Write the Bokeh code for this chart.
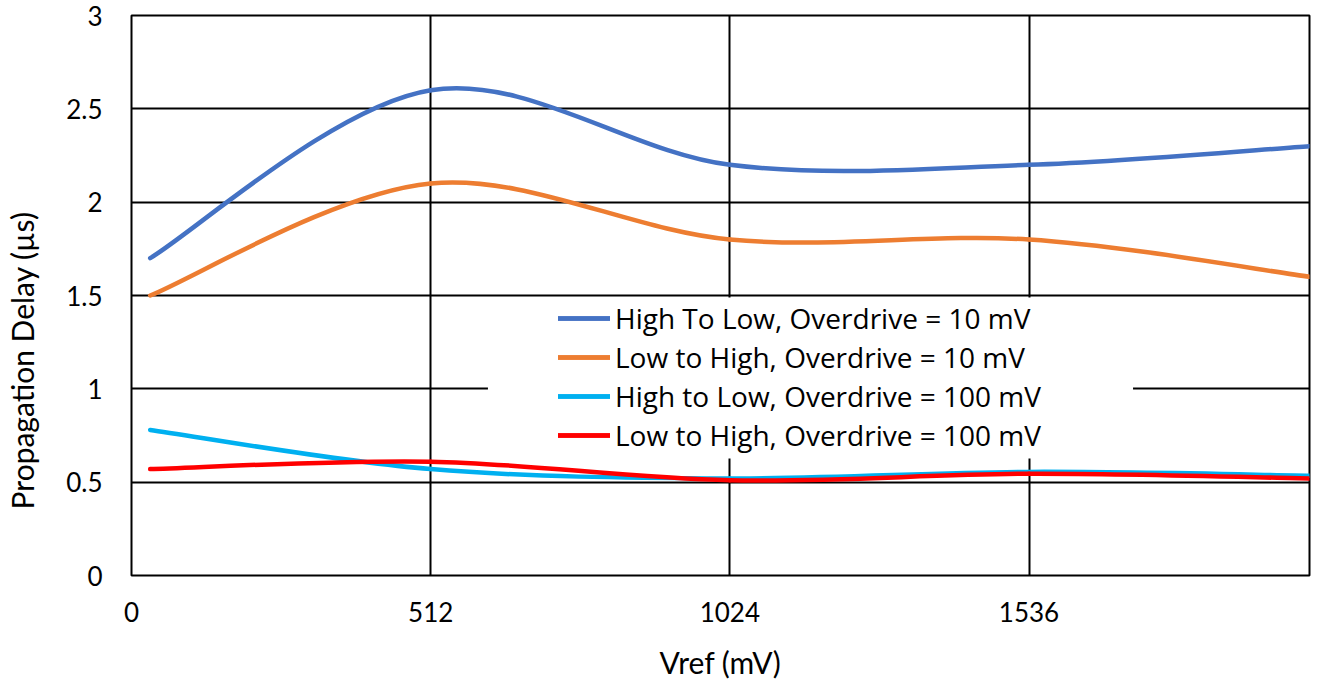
import math
from bokeh.plotting import figure
from bokeh.models import (Range1d, FixedTicker, Legend, LegendItem, BoxAnnotation, Label)
from bokeh.embed import file_html
from bokeh.resources import INLINE

# ---- data ----
vref = [32, 512, 1024, 1536, 2016]
hl_10 = [1.70, 2.60, 2.20, 2.20, 2.30]
lh_10 = [1.50, 2.10, 1.80, 1.80, 1.60]
hl_100 = [0.78, 0.57, 0.52, 0.555, 0.535]
lh_100 = [0.57, 0.61, 0.51, 0.545, 0.52]

series_names = ["High To Low, Overdrive = 10 mV",
                "Low to High, Overdrive = 10 mV",
                "High to Low, Overdrive = 100 mV",
                "Low to High, Overdrive = 100 mV"]
series_values = [hl_10, lh_10, hl_100, lh_100]
series_colors = ["#4472C4", "#ED7D31", "#00B0F0", "#FF0000"]

x_ticks = [0, 512, 1024, 1536]
y_ticks = [0, 0.5, 1, 1.5, 2, 2.5, 3]
y_tick_labels = ["0", "0.5", "1", "1.5", "2", "2.5", "3"]

FONT = "Lato"
LEG_FONT = "Open Sans"


def smooth_segments(xs, ys):
    """Bezier control points for a smoothed (Catmull-Rom like) line."""
    px = [xs[0]] + list(xs) + [xs[-1]]
    py = [ys[0]] + list(ys) + [ys[-1]]
    out = dict(x0=[], y0=[], x1=[], y1=[], cx0=[], cy0=[], cx1=[], cy1=[])
    for i in range(1, len(xs)):
        a = i
        b = i + 1
        out["x0"].append(px[a]); out["y0"].append(py[a])
        out["x1"].append(px[b]); out["y1"].append(py[b])
        out["cx0"].append(px[a] + (px[b] - px[a - 1]) / 6.0)
        out["cy0"].append(py[a] + (py[b] - py[a - 1]) / 6.0)
        out["cx1"].append(px[b] - (px[b + 1] - px[a]) / 6.0)
        out["cy1"].append(py[b] - (py[b + 1] - py[a]) / 6.0)
    return out


p = figure(width=1311, height=685, output_backend="svg", toolbar_location=None,
           x_range=Range1d(0, 2016), y_range=Range1d(0, 3),
           min_border_left=131, min_border_right=2, min_border_top=15,
           min_border_bottom=110)

p.background_fill_color = "white"
p.border_fill_color = "white"
p.outline_line_color = "black"
p.outline_line_width = 2

# grids
p.xgrid.ticker = FixedTicker(ticks=x_ticks)
p.ygrid.ticker = FixedTicker(ticks=y_ticks)
for g in (p.xgrid, p.ygrid):
    g.grid_line_color = "black"
    g.grid_line_width = 2
    g.grid_line_alpha = 1.0

# white box behind legend (covers grid lines)
p.add_layout(BoxAnnotation(left=610, right=1714, bottom=0.627, top=1.489,
                           fill_color="white", fill_alpha=1.0,
                           line_color=None, level="underlay"))

# axes
p.xaxis.ticker = FixedTicker(ticks=x_ticks)
p.yaxis.ticker = FixedTicker(ticks=y_ticks)
p.yaxis.major_label_overrides = {t: l for t, l in zip(y_ticks, y_tick_labels)}
for ax in (p.xaxis[0], p.yaxis[0]):
    ax.axis_line_color = None
    ax.major_tick_line_color = None
    ax.minor_tick_line_color = None
    ax.major_tick_out = 0
    ax.major_tick_in = 0
    ax.major_label_text_font = FONT
    ax.major_label_text_font_size = "26px"
    ax.major_label_text_color = "black"
    ax.axis_label_text_font = FONT
    ax.axis_label_text_font_size = "30px"
    ax.axis_label_text_font_style = "normal"
    ax.axis_label_text_color = "black"

p.xaxis.major_label_standoff = 26
p.yaxis.major_label_standoff = 29
p.xaxis.axis_label = "Vref (mV)"
p.xaxis.axis_label_standoff = 19

# y-axis title, placed in the left panel (not clipped to the frame)
ylab = Label(x=-188, y=1.173, text="Propagation Delay  (µs)", angle=math.pi / 2,
             text_align="center", text_baseline="middle",
             text_font=FONT, text_font_size="30px", text_color="black")
p.add_layout(ylab, "left")

items = []
for name, vals, col in zip(series_names, series_values, series_colors):
    seg = smooth_segments(vref, vals)
    r = p.bezier(x0=seg["x0"], y0=seg["y0"], x1=seg["x1"], y1=seg["y1"],
                 cx0=seg["cx0"], cy0=seg["cy0"], cx1=seg["cx1"], cy1=seg["cy1"],
                 line_color=col, line_width=4.5, line_cap="round")
    dummy = p.line(x=[float("nan")], y=[float("nan")], line_color=col,
                   line_width=4.5, line_cap="round")
    items.append(LegendItem(label=name, renderers=[r, dummy]))

legend = Legend(items=items, location=(427, 121), padding=0, margin=0,
                border_line_color=None, background_fill_alpha=0.0,
                label_text_font=LEG_FONT, label_text_font_size="28px",
                label_text_color="black", glyph_width=52, glyph_height=38,
                label_height=38, label_standoff=5, spacing=1)
p.add_layout(legend, "center")

open("out.html", "w").write(file_html(p, INLINE))
